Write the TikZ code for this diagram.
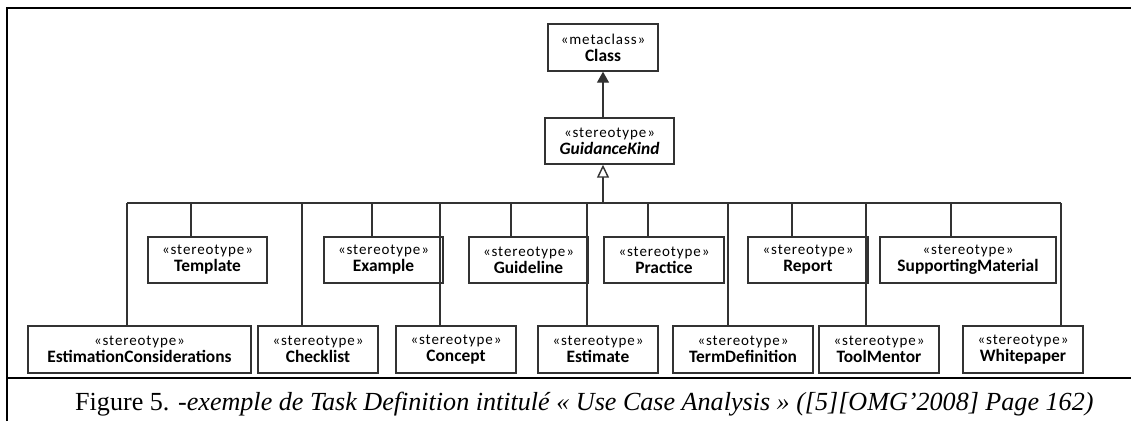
\documentclass[tikz,border=0pt]{standalone}
\usepackage{fontspec}
\setmainfont{Carlito}
\newfontfamily\capfont{Liberation Serif}
\newfontfamily\stfont[LetterSpace=6]{Carlito}
\usetikzlibrary{arrows.meta}
\definecolor{boxcol}{RGB}{50,50,50}
\newcommand\stereo[1]{{\stfont\fontsize{15}{17}\selectfont«#1»}}
\newcommand\nm[1]{{\fontsize{17.4}{17}\selectfont\bfseries #1}}
\begin{document}
\begin{tikzpicture}[x=1pt,y=-1pt,
  box/.style={draw=boxcol, line width=1.4pt, fill=white, minimum height=46pt, inner sep=0pt, align=center, font=\fontsize{12}{17}\selectfont},
  conn/.style={draw=boxcol, line width=1.4pt},
  frame/.style={line width=2.6pt, draw=black}]
\useasboundingbox (0,0) rectangle (1131,421);
% frame
\draw[frame] (7,421) -- (7,8) -- (1131,8);
\draw[frame] (7,378) -- (1131,378);
% top boxes
\node[box, minimum width=110pt, minimum height=47pt] (class) at (603,47.5) {\stereo{metaclass}\\\nm{Class}};
\node[box, minimum width=129pt] (gk) at (609.5,141) {\stereo{stereotype}\\\nm{\itshape GuidanceKind}};
% upper row
\node[box, minimum width=119pt] (template) at (207.5,260) {\stereo{stereotype}\\\nm{Template}};
\node[box, minimum width=119pt] (example) at (383.5,260) {\stereo{stereotype}\\\nm{Example}};
\node[box, minimum width=119pt] (guideline) at (528.5,260) {\stereo{stereotype}\\\nm{Guideline}};
\node[box, minimum width=120pt] (practice) at (664,260) {\stereo{stereotype}\\\nm{Practice}};
\node[box, minimum width=120pt] (report) at (808,260) {\stereo{stereotype}\\\nm{Report}};
\node[box, minimum width=176pt] (supporting) at (968,260) {\stereo{stereotype}\\\nm{SupportingMaterial}};
% lower row
\node[box, minimum width=223pt, minimum height=47pt] (estcons) at (139.5,349.5) {\stereo{stereotype}\\\nm{EstimationConsiderations}};
\node[box, minimum width=120pt, minimum height=47pt] (checklist) at (318,349.5) {\stereo{stereotype}\\\nm{Checklist}};
\node[box, minimum width=120pt, minimum height=47pt] (concept) at (456,349.5) {\stereo{stereotype}\\\nm{Concept}};
\node[box, minimum width=120pt, minimum height=47pt] (estimate) at (598,349.5) {\stereo{stereotype}\\\nm{Estimate}};
\node[box, minimum width=140pt, minimum height=47pt] (termdef) at (743,349.5) {\stereo{stereotype}\\\nm{TermDefinition}};
\node[box, minimum width=120pt, minimum height=47pt] (toolmentor) at (879,349.5) {\stereo{stereotype}\\\nm{ToolMentor}};
\node[box, minimum width=120pt, minimum height=47pt] (whitepaper) at (1023,349.5) {\stereo{stereotype}\\\nm{Whitepaper}};
% bus
\coordinate (busL) at (127,203);
\coordinate (busR) at (1061,203);
\coordinate (busM) at (603,203);
\draw[conn] (busL) -- (busR);
% inheritance arrows
\draw[conn, -{Triangle[width=12pt,length=11pt]}] (class.south |- gk.north) -- (class.south);
\draw[conn, -{Triangle[open,width=12pt,length=13pt,fill=white]}] (busM) -- (busM |- gk.south);
% drops
\draw[conn] (busL) -- (busL |- estcons.north);
\draw[conn] (191,203) -- (191,0 |- template.north);
\draw[conn] (302,203) -- (302,0 |- checklist.north);
\draw[conn] (372,203) -- (372,0 |- example.north);
\draw[conn] (440,203) -- (440,0 |- concept.north);
\draw[conn] (511,203) -- (511,0 |- guideline.north);
\draw[conn] (587,203) -- (587,0 |- estimate.north);
\draw[conn] (648,203) -- (648,0 |- practice.north);
\draw[conn] (728,203) -- (728,0 |- termdef.north);
\draw[conn] (792,203) -- (792,0 |- report.north);
\draw[conn] (866,203) -- (866,0 |- toolmentor.north);
\draw[conn] (951,203) -- (951,0 |- supporting.north);
\draw[conn] (busR) -- (busR |- whitepaper.north);
% caption
\node[font=\capfont\fontsize{26.1}{27}\selectfont, anchor=base west, inner sep=0pt] (cap) at (75,410) {Figure 5. -\textit{exemple de Task Definition intitulé « Use Case Analysis » ([5][OMG’2008] Page 162)}};
\end{tikzpicture}
\end{document}
